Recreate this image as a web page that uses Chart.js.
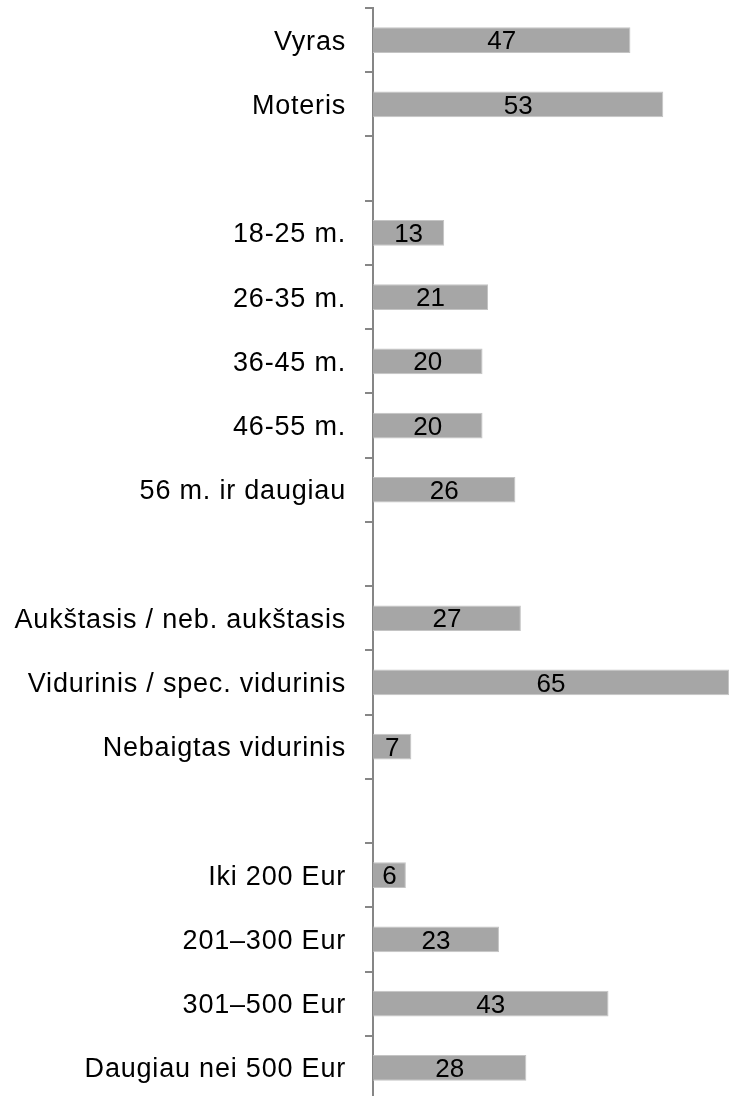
<!DOCTYPE html>
<html>
<head>
<meta charset="utf-8">
<script src="https://cdn.jsdelivr.net/npm/chart.js@4/dist/chart.umd.min.js"></script>
<style>
  html, body { margin: 0; padding: 0; background: #fff; overflow: hidden; }
  #wrap { position: relative; width: 729px; height: 1100px; }
</style>
</head>
<body>
<div id="wrap"><canvas id="c"></canvas></div>
<script>
const categories = [
  "Vyras", "Moteris", "",
  "18-25 m.", "26-35 m.", "36-45 m.", "46-55 m.", "56 m. ir daugiau", "",
  "Aukštasis / neb. aukštasis", "Vidurinis / spec. vidurinis", "Nebaigtas vidurinis", "",
  "Iki 200 Eur", "201–300 Eur", "301–500 Eur", "Daugiau nei 500 Eur"
];
const values = [
  47, 53, null,
  13, 21, 20, 20, 26, null,
  27, 65, 7, null,
  6, 23, 43, 28
];
const xMin = 0;
const xMax = 65;

const FONT = '"Liberation Sans", Arial, sans-serif';

const spacingPlugin = {
  id: 'spacing',
  beforeDraw(chart) {
    chart.ctx.letterSpacing = '0.8px';
    const s = chart.scales.y;
    if (s && !s._shifted) {
      const orig = s.drawLabels;
      s.drawLabels = function (ca) {
        const ctx = this.ctx;
        ctx.save();
        ctx.translate(0, 2);
        orig.call(this, ca);
        ctx.restore();
      };
      s._shifted = true;
    }
  }
};

const valueLabels = {
  id: 'valueLabels',
  afterDatasetsDraw(chart) {
    const ctx = chart.ctx;
    const meta = chart.getDatasetMeta(0);
    ctx.save();
    ctx.letterSpacing = '0px';
    ctx.font = '26px ' + FONT;
    ctx.fillStyle = '#000';
    ctx.textAlign = 'center';
    ctx.textBaseline = 'middle';
    meta.data.forEach((bar, i) => {
      const v = values[i];
      if (v === null || v === undefined) return;
      const p = bar.getProps(['x', 'y', 'base'], true);
      ctx.fillText(String(v), (p.x + p.base) / 2, p.y + 2);
    });
    ctx.restore();
  }
};

new Chart(document.getElementById('c'), {
  type: 'bar',
  data: {
    labels: categories,
    datasets: [{
      data: values,
      backgroundColor: '#a6a6a6',
      borderColor: '#c4c4c4',
      borderWidth: 1,
      borderSkipped: 'start',
      barPercentage: 0.4,
      categoryPercentage: 1.0
    }]
  },
  options: {
    indexAxis: 'y',
    responsive: true,
    maintainAspectRatio: false,
    animation: false,
    layout: { padding: { top: 8, right: 0, bottom: 0, left: 0 } },
    plugins: { legend: { display: false }, tooltip: { enabled: false } },
    scales: {
      x: {
        display: false,
        min: xMin,
        max: xMax
      },
      y: {
        offset: true,
        afterFit(scale) {
          scale.width = 373;
          scale.paddingTop = 0;
          scale.paddingBottom = 0;
        },
        border: { display: true, color: '#868686', width: 2 },
        grid: {
          offset: true,
          drawOnChartArea: false,
          drawTicks: true,
          tickLength: 8,
          color: '#868686',
          lineWidth: 2
        },
        ticks: {
          autoSkip: false,
          padding: 19,
          color: '#000',
          font: { family: FONT, size: 27 }
        }
      }
    }
  },
  plugins: [spacingPlugin, valueLabels]
});
</script>
</body>
</html>
